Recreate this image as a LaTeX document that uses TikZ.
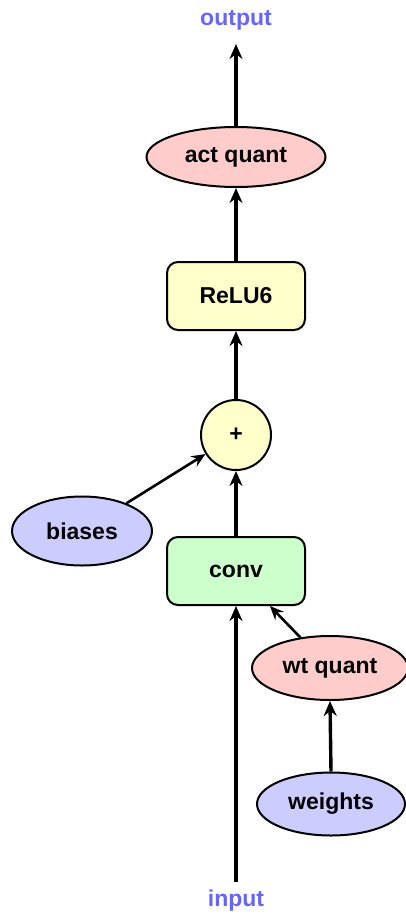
\documentclass[tikz,border=0pt]{standalone}
\usepackage{fontspec}
\setmainfont{Liberation Sans}
\usetikzlibrary{shapes.geometric,arrows.meta}
\definecolor{pinkf}{HTML}{FFCCCC}
\definecolor{yellf}{HTML}{FFFFCC}
\definecolor{greenf}{HTML}{CCFFCC}
\definecolor{bluef}{HTML}{CCCCFF}
\definecolor{labblue}{HTML}{6666FF}
\tikzset{
  base/.style={draw=black,line width=2pt,font=\fontsize{23}{26}\selectfont\bfseries,inner sep=0pt},
  ell/.style={base,ellipse},
  box/.style={base,rounded corners=11pt,minimum width=138pt,minimum height=68pt},
  lab/.style={font=\fontsize{23}{26}\selectfont\bfseries,text=labblue,inner sep=0pt},
  thickarr/.style={line width=3.4pt,-{Stealth[length=15pt,width=13pt,inset=5pt]}},
  thinarr/.style={line width=2.6pt,-{Stealth[length=14pt,width=12pt,inset=5pt]}},
}
\begin{document}
\begin{tikzpicture}[x=1pt,y=-1pt]
\useasboundingbox (0,0) rectangle (406,916);
\begin{scope}
\clip (0,0) rectangle (406,916);
\node[lab] (out) at (236,20) {output};
\node[ell,fill=pinkf,minimum width=179pt,minimum height=60pt] (act) at (236,157) {act quant};
\node[box,fill=yellf] (relu) at (236,296) {ReLU6};
\node[base,circle,fill=yellf,minimum size=70pt] (plus) at (236,435) {+};
\node[box,fill=greenf] (conv) at (236,571) {conv};
\node[ell,fill=bluef,minimum width=140pt,minimum height=69pt] (biases) at (82,531) {biases};
\node[ell,fill=pinkf,minimum width=156pt,minimum height=64pt] (wtq) at (330,668) {wt quant};
\node[ell,fill=bluef,minimum width=148pt,minimum height=63pt] (weights) at (331,804) {weights};
\node[lab] (inp) at (236,901) {input};
\coordinate (inend) at (236,882);
\coordinate (outend) at (236,44);
\draw[thickarr] (act.north) -- (outend);
\draw[thickarr] (relu.north) -- (act.south);
\draw[thickarr] (plus.north) -- (relu.south);
\draw[thickarr] (conv.north) -- (plus.south);
\draw[thickarr] (inend) -- (conv.south);
\draw[thinarr] (biases) -- (plus);
\draw[thinarr] (wtq) -- (conv);
\draw[thickarr] (weights.north) -- (wtq.south);
\end{scope}
\end{tikzpicture}
\end{document}
